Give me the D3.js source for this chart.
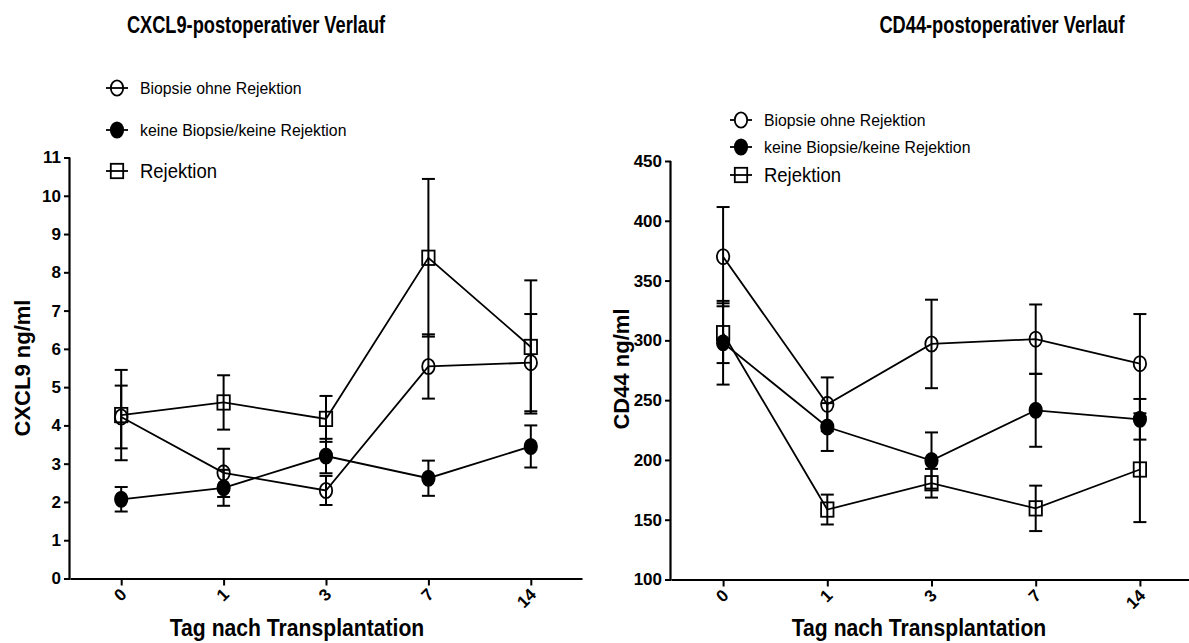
<!DOCTYPE html>
<html>
<head>
<meta charset="utf-8">
<script src="https://cdn.jsdelivr.net/npm/d3@7"></script>
<style>
  html, body { margin: 0; padding: 0; background: #fff; }
  svg { display: block; }
  text { fill: #000; }
</style>
</head>
<body>
<svg id="chart" width="1189" height="643"></svg>
<script>
// Days after transplantation
const days = ["0", "1", "3", "7", "14"];

// Series names
const seriesNames = ["Biopsie ohne Rejektion", "keine Biopsie/keine Rejektion", "Rejektion"];

// CXCL9 (ng/ml): mean and SEM per day
const cxclBiopsie = [4.22, 2.76, 2.30, 5.54, 5.64];
const cxclBiopsieErr = [0.82, 0.63, 0.38, 0.84, 1.27];
const cxclKeine = [2.07, 2.37, 3.20, 2.62, 3.45];
const cxclKeineErr = [0.32, 0.47, 0.45, 0.46, 0.55];
const cxclRejektion = [4.27, 4.60, 4.17, 8.38, 6.05];
const cxclRejektionErr = [1.18, 0.71, 0.60, 2.06, 1.74];
const cxclTicks = [0, 1, 2, 3, 4, 5, 6, 7, 8, 9, 10, 11];

// CD44 (ng/ml): mean and SEM per day
const cd44Biopsie = [370, 246.5, 297, 301, 280.5];
const cd44BiopsieErr = [41.5, 22.5, 37, 29, 41.5];
const cd44Keine = [298, 227.5, 199.5, 241.5, 234];
const cd44KeineErr = [35, 20, 23.5, 30.5, 17];
const cd44Rejektion = [306, 158.5, 180.5, 159.5, 192];
const cd44RejektionErr = [25, 12.5, 12, 19, 44];
const cd44Ticks = [100, 150, 200, 250, 300, 350, 400, 450];

const SANS = "'Liberation Sans', Arial, sans-serif";
const svg = d3.select("#chart");

// Condensed text: a normal sans face squeezed horizontally
function narrowText(parent, x, y, str, opts) {
  const t = parent.append("text")
    .attr("transform", `translate(${x},${y}) ${opts.rotate ? `rotate(${opts.rotate})` : ""} scale(${opts.squeeze},1)`)
    .attr("text-anchor", opts.anchor || "start")
    .style("font-family", SANS)
    .style("font-size", opts.size + "px")
    .style("font-weight", opts.bold ? "bold" : "normal")
    .text(str);
  if (opts.dy) t.attr("dy", opts.dy);
  return t;
}

function drawMarker(g, kind, x, y, fill) {
  if (kind === "circle" || kind === "dot") {
    g.append("ellipse")
      .attr("cx", x).attr("cy", y).attr("rx", 6.2).attr("ry", 7.6)
      .attr("fill", kind === "dot" ? "#000" : (fill || "none"))
      .attr("stroke", "#000").attr("stroke-width", 1.8);
  } else {
    g.append("rect")
      .attr("x", x - 6.2).attr("y", y - 7.2).attr("width", 12.4).attr("height", 14.4)
      .attr("fill", "none").attr("stroke", "#000").attr("stroke-width", 1.8);
  }
}

function drawPanel(p) {
  const g = svg.append("g");
  const x = d3.scalePoint().domain(days).range(p.xRange).padding(0.5);
  const y = d3.scaleLinear().domain(p.yDomain).range(p.yRange);

  // Title
  narrowText(g, p.titleX, 33, p.title, { size: 24, squeeze: 0.76, bold: true, anchor: "middle" });

  // Y axis
  const yAxis = d3.axisLeft(y).tickValues(p.yTicks).tickSize(6).tickPadding(3);
  const ya = g.append("g").attr("transform", `translate(${p.xRange[0]},0)`).call(yAxis);
  ya.select(".domain").attr("stroke-width", 2.2).attr("d", `M-0.5,${p.yRange[1]}V${p.yRange[0] + 1}`);
  ya.selectAll(".tick line").attr("stroke-width", 2);
  ya.selectAll(".tick text")
    .style("font-family", SANS).style("font-weight", "bold").style("font-size", "17px");

  // X axis
  const xAxis = d3.axisBottom(x).tickSize(7).tickSizeOuter(0).tickPadding(4);
  const xa = g.append("g").attr("transform", `translate(0,${p.yRange[0]})`).call(xAxis);
  xa.select(".domain").attr("stroke-width", 2.2);
  xa.selectAll(".tick line").attr("stroke-width", 2);
  xa.selectAll(".tick text")
    .style("font-family", SANS).style("font-weight", "bold").style("font-size", "17px")
    .attr("text-anchor", "end")
    .attr("dy", null).attr("y", 0)
    .attr("transform", "translate(6,17) rotate(-45)");

  // Axis titles
  narrowText(g, p.xTitleX, 636, "Tag nach Transplantation", { size: 23, squeeze: 0.92, bold: true, anchor: "middle" });
  g.append("text")
    .attr("transform", `translate(${p.yTitleX},${p.yTitleY}) rotate(-90)`)
    .attr("text-anchor", "middle")
    .style("font-family", SANS).style("font-weight", "bold").style("font-size", "22px")
    .text(p.yTitle);

  // Series: lines, error bars, markers
  const line = d3.line().x((d, i) => x(days[i])).y(d => y(d));
  p.series.forEach(s => {
    g.append("path").datum(s.mean).attr("d", line)
      .attr("fill", "none").attr("stroke", "#000").attr("stroke-width", 1.8);
  });
  p.series.forEach(s => {
    s.mean.forEach((m, i) => {
      const cx = x(days[i]);
      const hi = y(m + s.err[i]), lo = y(m - s.err[i]);
      g.append("line").attr("x1", cx).attr("x2", cx).attr("y1", hi).attr("y2", lo)
        .attr("stroke", "#000").attr("stroke-width", 2);
      [hi, lo].forEach(yy => {
        g.append("line").attr("x1", cx - 6.5).attr("x2", cx + 6.5).attr("y1", yy).attr("y2", yy)
          .attr("stroke", "#000").attr("stroke-width", 2);
      });
      drawMarker(g, s.kind, cx, y(m));
    });
  });

  // Legend
  p.legend.forEach((item, i) => {
    const ly = p.legendY[i];
    const lx = p.legendX;
    g.append("line").attr("x1", lx - 11).attr("x2", lx + 11).attr("y1", ly).attr("y2", ly)
      .attr("stroke", "#000").attr("stroke-width", 1.8);
    drawMarker(g, item.kind, lx, ly, p.legendGap ? "#fff" : "none");
    const big = item.kind === "square";
    narrowText(g, lx + 23, ly, item.name, {
      size: big ? 21 : 17, squeeze: big ? 0.88 : 0.93, dy: "0.35em"
    });
  });
}

drawPanel({
  title: "CXCL9-postoperativer Verlauf",
  titleX: 256,
  xRange: [70, 582],
  yDomain: [0, 11],
  yRange: [578.5, 157.5],
  yTicks: cxclTicks,
  yTitle: "CXCL9 ng/ml",
  yTitleX: 30, yTitleY: 368,
  xTitleX: 297,
  series: [
    { kind: "circle", mean: cxclBiopsie, err: cxclBiopsieErr },
    { kind: "dot", mean: cxclKeine, err: cxclKeineErr },
    { kind: "square", mean: cxclRejektion, err: cxclRejektionErr }
  ],
  legend: [
    { kind: "circle", name: seriesNames[0] },
    { kind: "dot", name: seriesNames[1] },
    { kind: "square", name: seriesNames[2] }
  ],
  legendX: 117, legendY: [88, 130, 171], legendGap: false
});

drawPanel({
  title: "CD44-postoperativer Verlauf",
  titleX: 1002,
  xRange: [671, 1192],
  yDomain: [100, 450],
  yRange: [579.5, 161],
  yTicks: cd44Ticks,
  yTitle: "CD44 ng/ml",
  yTitleX: 629, yTitleY: 369,
  xTitleX: 919,
  series: [
    { kind: "circle", mean: cd44Biopsie, err: cd44BiopsieErr },
    { kind: "dot", mean: cd44Keine, err: cd44KeineErr },
    { kind: "square", mean: cd44Rejektion, err: cd44RejektionErr }
  ],
  legend: [
    { kind: "circle", name: seriesNames[0] },
    { kind: "dot", name: seriesNames[1] },
    { kind: "square", name: seriesNames[2] }
  ],
  legendX: 741, legendY: [120, 147, 175], legendGap: true
});
</script>
</body>
</html>
